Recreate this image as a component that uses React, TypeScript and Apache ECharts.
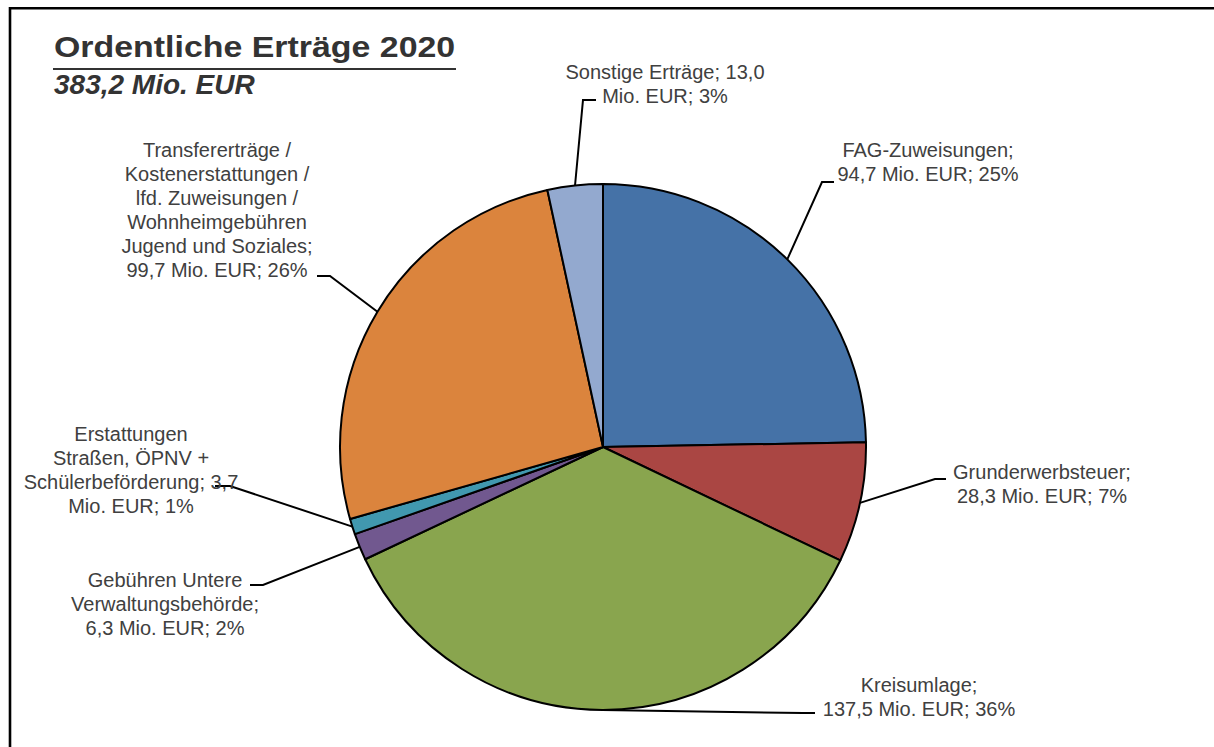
import React, { useEffect, useRef } from "react";
import * as echarts from "echarts";

// ---- Data ----
const categories: string[] = [
  "FAG-Zuweisungen",
  "Grunderwerbsteuer",
  "Kreisumlage",
  "Gebühren Untere\nVerwaltungsbehörde",
  "Erstattungen\nStraßen, ÖPNV +\nSchülerbeförderung",
  "Transfererträge /\nKostenerstattungen /\nlfd. Zuweisungen /\nWohnheimgebühren\nJugend und Soziales",
  "Sonstige Erträge",
];
const valuesMioEUR: number[] = [94.7, 28.3, 137.5, 6.3, 3.7, 99.7, 13.0];
const colors: string[] = ["#4572A7", "#AA4643", "#89A54E", "#71588F", "#4198AF", "#DB843D", "#93A9CF"];
// where the label breaks: after "name;" and after the value
const breakAfterName: boolean[] = [true, true, true, true, false, true, false];
const breakAfterValue: boolean[] = [false, false, false, false, true, false, true];
const titleText = "Ordentliche Erträge 2020";
const subtitleText = "383,2 Mio. EUR";

// ---- Label layout (positions of the label blocks and leader-line ends) ----
const labelLayoutCfg = [
  { x: 928, y: 162, elbow: [822, 182], end: [834, 182] },
  { x: 1042, y: 484, elbow: [935, 479], end: [946, 479] },
  { x: 919, y: 697, elbow: [803, 713], end: [815, 713] },
  { x: 165, y: 604, elbow: [263, 585], end: [250, 585] },
  { x: 131, y: 470, elbow: [230, 486], end: [215, 486] },
  { x: 217, y: 210, elbow: [330, 276], end: [317, 276] },
  { x: 665, y: 84, elbow: [583, 100], end: [596, 100] },
];

const fmt = (v: number) => v.toFixed(1).replace(".", ",");

export default function App() {
  const ref = useRef<HTMLDivElement>(null);
  useEffect(() => {
    if (!ref.current) return;
    const chart = echarts.init(ref.current, undefined, { renderer: "svg" });
    const data = categories.map((name, i) => ({
      name,
      value: valuesMioEUR[i],
      itemStyle: { color: colors[i] },
    }));
    chart.setOption({
      animation: false,
      backgroundColor: "#ffffff",
      graphic: [
        {
          type: "polyline",
          shape: { points: [[10, 747], [10, 8.3], [1214, 8.3]] },
          style: { stroke: "#000", lineWidth: 2.6, fill: null },
        },
        {
          type: "text",
          x: 54,
          y: 62,
          scaleX: 1.13,
          style: {
            text: titleText,
            font: "bold 30px 'Liberation Sans', Arial, sans-serif",
            fill: "#333333",
            verticalAlign: "bottom",
          },
        },
        {
          type: "line",
          shape: { x1: 53, y1: 69, x2: 456, y2: 69 },
          style: { stroke: "#333333", lineWidth: 2 },
        },
        {
          type: "text",
          x: 54,
          y: 98,
          style: {
            text: subtitleText,
            font: "italic bold 28px 'Liberation Sans', Arial, sans-serif",
            fill: "#333333",
            verticalAlign: "bottom",
          },
        },
      ],
      series: [
        {
          type: "pie",
          center: [603, 447],
          radius: 263,
          startAngle: 90,
          clockwise: true,
          avoidLabelOverlap: false,
          itemStyle: { borderColor: "#000", borderWidth: 2 },
          label: {
            show: true,
            position: "outside",
            fontFamily: "'Liberation Sans', Arial, sans-serif",
            fontSize: 20,
            lineHeight: 24,
            color: "#404040",
            align: "center",
            formatter: (p: any) => {
              const i = p.dataIndex;
              return (
                p.name +
                ";" +
                (breakAfterName[i] ? "\n" : " ") +
                fmt(p.value) +
                (breakAfterValue[i] ? "\n" : " ") +
                "Mio. EUR; " +
                Math.round(p.percent) +
                "%"
              );
            },
          },
          labelLine: {
            show: true,
            smooth: false,
            lineStyle: { color: "#000", width: 2 },
          },
          labelLayout: (params: any) => {
            const c = labelLayoutCfg[params.dataIndex];
            const p0 = params.labelLinePoints ? params.labelLinePoints[0] : c.elbow;
            return {
              x: c.x,
              y: c.y,
              align: "center",
              verticalAlign: "middle",
              labelLinePoints: [p0, c.elbow, c.end],
            };
          },
          data,
        },
      ],
    });
    return () => chart.dispose();
  }, []);
  return (
    <div
      ref={ref}
      style={{ position: "fixed", left: 0, top: 0, width: 1214, height: 747 }}
    />
  );
}
